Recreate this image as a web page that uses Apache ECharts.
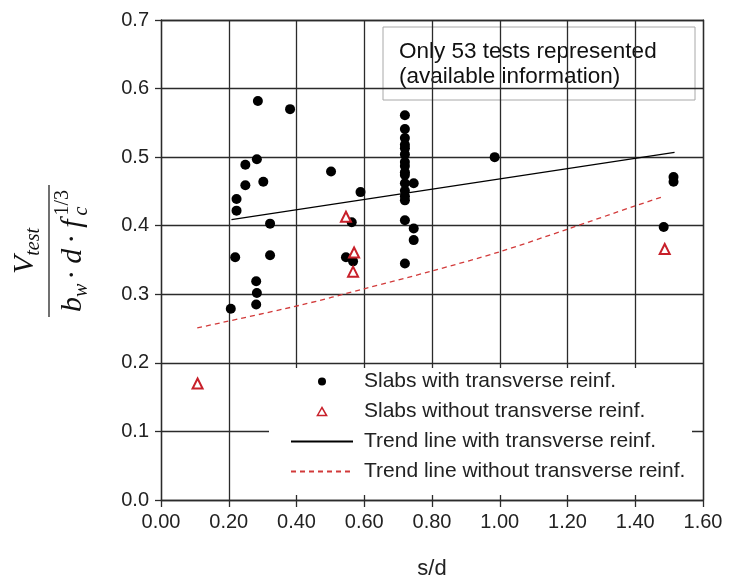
<!DOCTYPE html>
<html>
<head>
<meta charset="utf-8">
<script src="https://cdn.jsdelivr.net/npm/echarts@6/dist/echarts.min.js"></script>
<style>
html, body { margin: 0; padding: 0; background: #fff; }
#chart { width: 730px; height: 580px; }
</style>
</head>
<body>
<div id="chart"></div>
<script>
// slabs with transverse reinforcement
const withX = [0.286, 0.381, 0.283, 0.249, 0.502, 0.249, 0.302, 0.589, 0.223, 0.223, 0.322, 0.563,
  0.72, 0.72, 0.72, 0.72, 0.72, 0.72, 0.72, 0.72, 0.72, 0.72, 0.72, 0.72, 0.72, 0.72, 0.72, 0.72,
  0.746, 0.746, 0.746, 0.985, 0.546, 0.567, 0.219, 0.322, 0.281, 0.283, 0.281, 0.206, 1.513, 1.513, 1.484]
const withY = [0.582, 0.570, 0.497, 0.489, 0.479, 0.459, 0.464, 0.449, 0.439, 0.422, 0.403, 0.405,
  0.561, 0.541, 0.528, 0.518, 0.513, 0.504, 0.493, 0.487, 0.478, 0.474, 0.462, 0.451, 0.443, 0.437, 0.408, 0.345,
  0.462, 0.396, 0.379, 0.500, 0.354, 0.348, 0.354, 0.357, 0.319, 0.302, 0.285, 0.279, 0.471, 0.464, 0.398]

// slabs without transverse reinforcement
const withoutX = [0.108, 0.546, 0.570, 0.567, 1.487]
const withoutY = [0.170, 0.413, 0.361, 0.333, 0.366]

// trend lines
const trendWithX = [0.208, 1.516]
const trendWithY = [0.409, 0.507]
const trendWithoutX = [0.107, 0.41, 0.60, 0.80, 1.00, 1.20, 1.40, 1.487]
const trendWithoutY = [0.251, 0.284, 0.308, 0.334, 0.362, 0.395, 0.429, 0.443]

// axis ticks
const xTicks = [0, 0.2, 0.4, 0.6, 0.8, 1.0, 1.2, 1.4, 1.6]
const yTicks = [0, 0.1, 0.2, 0.3, 0.4, 0.5, 0.6, 0.7]

const seriesNames = [
  'Slabs with transverse reinf.',
  'Slabs without transverse reinf.',
  'Trend line with transverse reinf.',
  'Trend line without transverse reinf.'
]
const noteLines = ['Only 53 tests represented', '(available information)']

const zip = (xs, ys) => xs.map((x, i) => [x, ys[i]])

const gridColor = '#2b2b2b'
const redColor = '#c8202a'
const sans = '"Liberation Sans", Arial, sans-serif'
const serif = '"Liberation Serif", "DejaVu Serif", serif'

// y axis name: V_test / (b_w · d · f_c^(1/3)), laid out with measured widths
const ctx = document.createElement('canvas').getContext('2d')
const measure = (text, font) => { ctx.font = font; return ctx.measureText(text).width }

const buildRow = (tokens, baseY) => {
  let total = 0
  tokens.forEach(t => { t.w = measure(t.text, t.font); total += (t.stack ? 0 : t.w) + (t.gap || 0) })
  let x = -total / 2
  const out = []
  tokens.forEach(t => {
    out.push({
      type: 'text',
      x: x,
      y: baseY + t.dy,
      style: { text: t.text, font: t.font, fill: '#111', align: 'left', verticalAlign: 'middle' }
    })
    x += (t.stack ? 0 : t.w) + (t.gap || 0)
  })
  return out
}

const mainF = 'italic 30px ' + serif
const subF = 'italic 20px ' + serif
const upF = '30px ' + serif
const supF = '20px ' + serif
const numTokens = [
  { text: 'V', font: mainF, dy: 0 },
  { text: 'test', font: subF, dy: 9 }
]
const denTokens = [
  { text: 'b', font: mainF, dy: 0 },
  { text: 'w', font: subF, dy: 9, gap: 4 },
  { text: '·', font: upF, dy: 0, gap: 6 },
  { text: 'd', font: mainF, dy: 0, gap: 5 },
  { text: '·', font: upF, dy: 0, gap: 6 },
  { text: 'f', font: mainF, dy: 0, gap: 4 },
  { text: 'c', font: subF, dy: 9, stack: true },
  { text: '1/3', font: supF, dy: -10 }
]
const yNameChildren = [].concat(
  buildRow(numTokens, -24),
  [{ type: 'line', shape: { x1: -66, y1: 0, x2: 66, y2: 0 }, style: { stroke: '#111', lineWidth: 1.2 } }],
  buildRow(denTokens, 24)
)

const chart = echarts.init(document.getElementById('chart'))

const option = {
  animation: false,
  backgroundColor: '#fff',
  grid: { left: 161, right: 27, top: 20, bottom: 80, containLabel: false, outerBoundsMode: 'none' },
  xAxis: [
    {
      type: 'value',
      position: 'bottom',
      min: xTicks[0],
      max: xTicks[xTicks.length - 1],
      interval: xTicks[1] - xTicks[0],
      name: 's/d',
      nameLocation: 'middle',
      nameGap: 58,
      nameTextStyle: { fontSize: 22, color: '#222', fontFamily: sans },
      axisLine: { show: true, lineStyle: { color: gridColor, width: 1.3 } },
      axisTick: { show: true, inside: false, length: 7, lineStyle: { color: gridColor, width: 1.3 } },
      axisLabel: { fontSize: 20, color: '#222', fontFamily: sans, margin: 12, formatter: v => v.toFixed(2) },
      splitLine: { show: true, lineStyle: { color: gridColor, width: 1.3 } }
    },
    {
      type: 'value',
      position: 'top',
      min: xTicks[0],
      max: xTicks[xTicks.length - 1],
      axisLine: { show: true, onZero: false, lineStyle: { color: gridColor, width: 1.3 } },
      axisTick: { show: false },
      axisLabel: { show: false },
      splitLine: { show: false }
    }
  ],
  yAxis: [
    {
      type: 'value',
      position: 'left',
      min: yTicks[0],
      max: yTicks[yTicks.length - 1],
      interval: yTicks[1] - yTicks[0],
      axisLine: { show: true, onZero: false, lineStyle: { color: gridColor, width: 1.3 } },
      axisTick: { show: true, inside: false, length: 6, lineStyle: { color: gridColor, width: 1.3 } },
      axisLabel: { fontSize: 20, color: '#222', fontFamily: sans, margin: 12, formatter: v => v.toFixed(1) },
      splitLine: { show: true, lineStyle: { color: gridColor, width: 1.3 } }
    },
    {
      type: 'value',
      position: 'right',
      min: yTicks[0],
      max: yTicks[yTicks.length - 1],
      axisLine: { show: true, onZero: false, lineStyle: { color: gridColor, width: 1.3 } },
      axisTick: { show: false },
      axisLabel: { show: false },
      splitLine: { show: false }
    }
  ],
  legend: {
    orient: 'vertical',
    left: 290,
    top: 371,
    padding: 0,
    itemWidth: 62,
    itemHeight: 8,
    itemGap: 9,
    textStyle: { fontSize: 21, color: '#222', fontFamily: sans, padding: [0, 0, 0, 6] },
    data: [
      { name: seriesNames[0], icon: 'circle' },
      { name: seriesNames[1], icon: 'path://M0,10L5.77,0L11.55,10Z', itemStyle: { borderWidth: 1.5 } },
      { name: seriesNames[2] },
      { name: seriesNames[3] }
    ]
  },
  graphic: [
    // white legend panel that hides the grid lines
    { type: 'rect', z: 1, shape: { x: 269, y: 368, width: 423, height: 127 }, style: { fill: '#fff' } },
    // note box
    {
      type: 'group', z: 10,
      children: [
        { type: 'rect', shape: { x: 383, y: 27, width: 312, height: 73 }, style: { fill: '#fff', stroke: '#a8a8a8', lineWidth: 1 } },
        { type: 'text', x: 399, y: 52, style: { text: noteLines[0], font: '22.5px ' + sans, fill: '#111', verticalAlign: 'middle' } },
        { type: 'text', x: 399, y: 77, style: { text: noteLines[1], font: '22.5px ' + sans, fill: '#111', verticalAlign: 'middle' } }
      ]
    },
    // y axis name
    { type: 'group', x: 49, y: 251, rotation: Math.PI / 2, children: yNameChildren }
  ],
  series: [
    {
      name: seriesNames[0],
      type: 'scatter',
      data: zip(withX, withY),
      symbol: 'circle',
      symbolSize: 10,
      itemStyle: { color: '#000', opacity: 1 },
      z: 3
    },
    {
      name: seriesNames[1],
      type: 'scatter',
      data: zip(withoutX, withoutY),
      symbol: 'triangle',
      symbolSize: 10,
      itemStyle: { color: '#fff', borderColor: redColor, borderWidth: 2, opacity: 1 },
      z: 4
    },
    {
      name: seriesNames[2],
      type: 'line',
      data: zip(trendWithX, trendWithY),
      symbol: 'none',
      lineStyle: { color: '#000', width: 1.2 },
      itemStyle: { color: 'rgba(0,0,0,0)' },
      z: 2
    },
    {
      name: seriesNames[3],
      type: 'line',
      data: zip(trendWithoutX, trendWithoutY),
      symbol: 'none',
      smooth: 0.3,
      lineStyle: { color: '#d23a3a', width: 1.3, type: [5, 4] },
      itemStyle: { color: 'rgba(0,0,0,0)' },
      z: 2
    }
  ]
}

chart.setOption(option)
</script>
</body>
</html>
